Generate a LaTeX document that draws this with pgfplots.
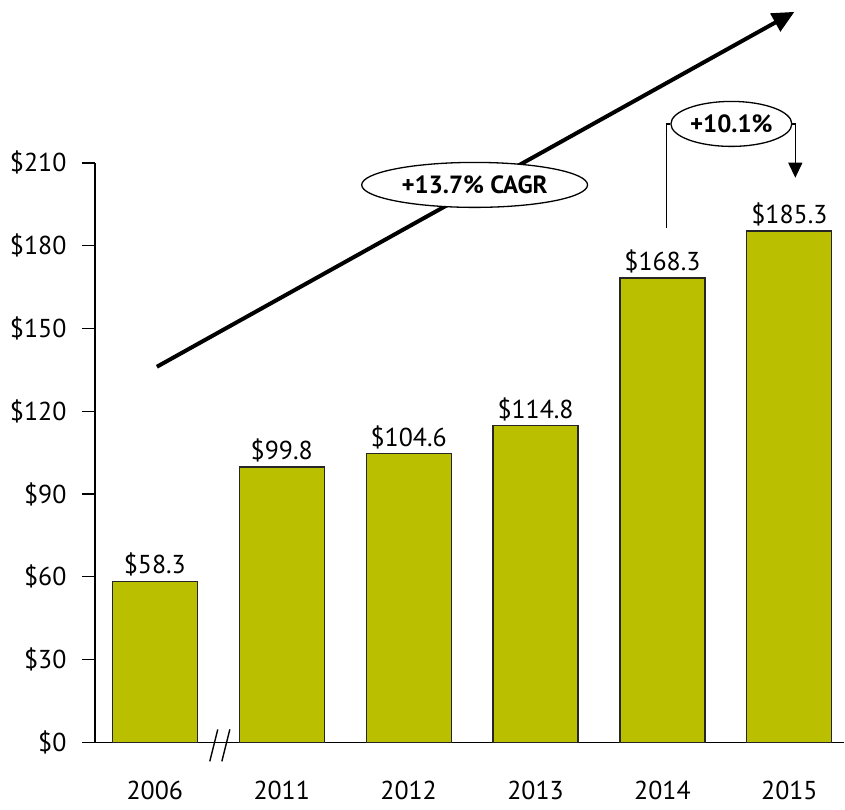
\documentclass[border=0pt]{standalone}
\usepackage{pgfplots}
\pgfplotsset{compat=1.18}
\usepackage{fontspec}
\setmainfont{PT Sans}
\usetikzlibrary{arrows.meta,shapes.geometric}
\definecolor{barc}{RGB}{186,191,0}
\begin{document}
\begin{tikzpicture}
\begin{axis}[
  scale only axis, width=750bp, height=580bp,
  xmin=-0.4724, xmax=5.433, ymin=0, ymax=210,
  axis x line*=bottom, axis y line*=left,
  axis line style={line width=1.4bp, black},
  xtick={0,...,5}, xticklabels={2006,2011,2012,2013,2014,2015},
  major x tick style={draw=none},
  ytick={0,30,60,90,120,150,180,210},
  yticklabels={\$0,\$30,\$60,\$90,\$120,\$150,\$180,\$210},
  tick align=outside, major tick length=13bp,
  major y tick style={line width=1.4bp, black},
  yticklabel style={font=\fontsize{26}{30}\selectfont, xshift=-12bp},
  xticklabel style={font=\fontsize{26}{30}\selectfont, yshift=-22bp},
  clip=false,
  ybar, bar width=85bp,
  nodes near coords={\$\pgfmathprintnumber[fixed,precision=1,fixed zerofill,assume math mode=true]{\pgfplotspointmeta}},
  nodes near coords style={font=\fontsize{26}{30}\selectfont, yshift=1bp},
]
\addplot[fill=barc, draw=black!85, line width=1.2bp] coordinates {(0,58.3) (1,99.8) (2,104.6) (3,114.8) (4,168.3) (5,185.3)};
% axis break
\draw[line width=1.4bp] (axis cs:0.433,-6.88) -- (axis cs:0.496,4.71);
\draw[line width=1.4bp] (axis cs:0.528,-6.88) -- (axis cs:0.591,4.71);
% CAGR arrow
\draw[line width=4bp, -{Triangle[length=22bp,width=20bp]}] (axis cs:0.016,136.1) -- (axis cs:5.04,264.7);
\node[draw, line width=1.3bp, ellipse, fill=white, minimum width=226bp, minimum height=45bp, inner sep=0pt, font=\bfseries\fontsize{25}{30}\selectfont] at (axis cs:2.52,202) {+13.7\% CAGR};
% +10.1% bracket
\node[draw, line width=1.3bp, ellipse, fill=white, minimum width=121bp, minimum height=45bp, inner sep=0pt, font=\bfseries\fontsize{25}{30}\selectfont] (e) at (axis cs:4.543,224.1) {+10.1\%};
\draw[line width=1.3bp] (axis cs:4.031,186.5) -- (axis cs:4.031,224.1) -- (e.west);
\draw[line width=1.3bp, -{Triangle[length=15bp,width=14bp]}] (e.east) -- (axis cs:5.047,224.1) -- (axis cs:5.047,204.6);
% bounding box
\path (axis cs:-1.22,-24.26) rectangle (axis cs:5.433,269);
\end{axis}
\end{tikzpicture}
\end{document}
